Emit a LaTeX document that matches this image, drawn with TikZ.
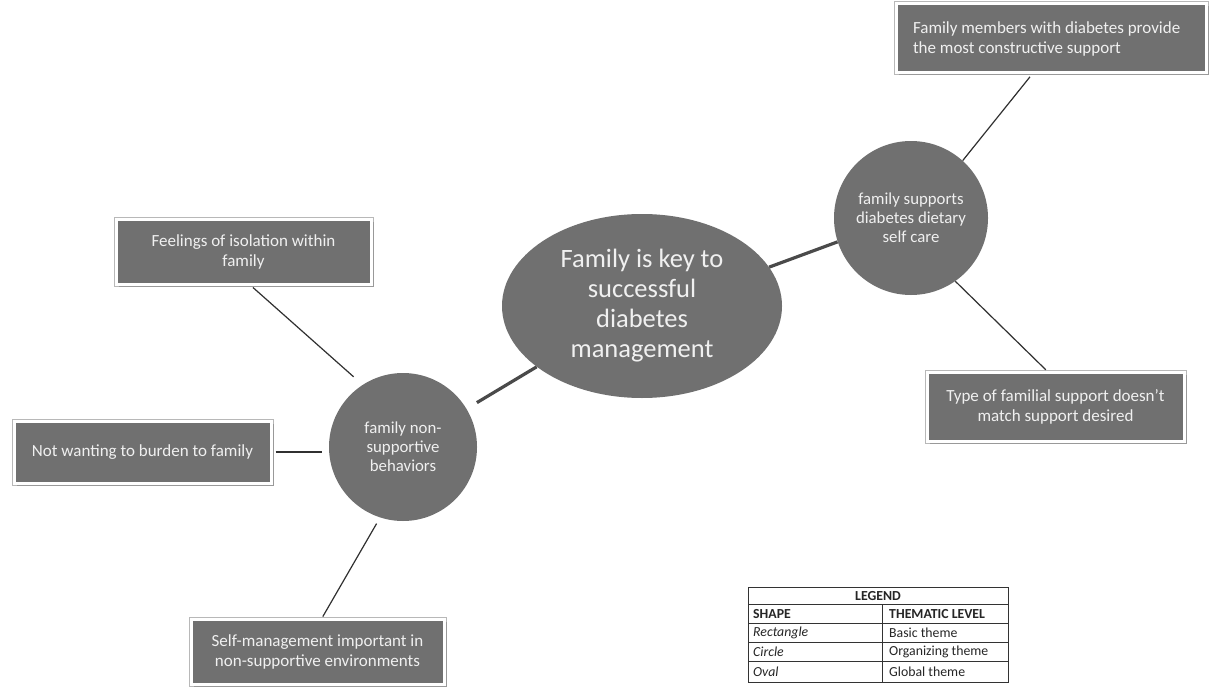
\documentclass[tikz,border=0pt]{standalone}
\usepackage{fontspec}
\setmainfont{Carlito}
\usetikzlibrary{shapes.geometric,shadows}
\definecolor{shapegray}{HTML}{707070}
\definecolor{labelwhite}{HTML}{F0F0F0}
\definecolor{linkdark}{HTML}{303030}
\definecolor{linkmid}{HTML}{4A4A4A}
\begin{document}
\begin{tikzpicture}[x=1pt,y=-1pt,
  basictheme/.style={rectangle, fill=shapegray, draw=white, line width=3pt,
    text=labelwhite, inner sep=0pt, align=center,
    preaction={draw=black!28, line width=5pt},
    general shadow={fill=black!40, shadow xshift=2.5pt, shadow yshift=-2.5pt},
    font=\fontsize{17}{20}\selectfont},
  orgtheme/.style={circle, fill=shapegray, text=labelwhite, inner sep=0pt,
    align=center, font=\fontsize{16.8}{19}\selectfont},
  globaltheme/.style={ellipse, fill=shapegray, text=labelwhite, inner sep=0pt,
    align=center, minimum width=280pt, minimum height=184pt,
    font=\fontsize{26.5}{30}\selectfont},
  thinlink/.style={draw=linkdark, line width=1.2pt},
  thicklink/.style={draw=linkmid, line width=3.2pt},
  legendgrid/.style={draw=black!80, line width=0.9pt},
  legendtext/.style={font=\fontsize{13.8}{15}\selectfont, inner sep=0pt, anchor=west, text=black!85}
]
\useasboundingbox[fill=white] (0,0) rectangle (1212,690);

% global theme
\node[globaltheme] (global) at (642,306)
  {Family is key to\\successful\\diabetes\\management};

% organizing themes
\node[orgtheme, minimum size=154pt] (support) at (911,218)
  {family supports\\diabetes dietary\\self care};
\node[orgtheme, minimum size=148pt] (nonsupport) at (403,447)
  {family non-\\supportive\\behaviors};

% basic themes
\node[basictheme, text width=276pt, align=flush left, minimum width=310pt, minimum height=69pt] (members) at (1051,38.5)
  {Family members with diabetes provide\\the most constructive support};
\node[basictheme, minimum width=257pt, minimum height=69pt] (mismatch) at (1055.5,406.5)
  {Type of familial support doesn't\\match support desired};
\node[basictheme, minimum width=255pt, minimum height=65pt] (isolation) at (243.5,251.5)
  {Feelings of isolation within\\family};
\node[basictheme, minimum width=257pt, minimum height=62pt] (burden) at (142.5,452)
  {Not wanting to burden to family};
\node[basictheme, minimum width=253pt, minimum height=65pt] (selfmgmt) at (317.5,651.5)
  {Self-management important in\\non-supportive environments};

% connectors
\draw[thicklink] (global.17) -- (support.198);
\draw[thicklink, shorten >=12pt] (global.210) -- (nonsupport.31);
\draw[thinlink, shorten >=3pt] (support.48) -- (members.-118);
\draw[thinlink, shorten >=1pt] (support.-55) -- (mismatch.104);
\draw[thinlink, shorten <=12pt, shorten >=3pt] (nonsupport.123) -- (isolation.-78);
\draw[thinlink, shorten <=3pt, shorten >=7pt] (burden.east) -- (burden.east -| nonsupport.west);
\draw[thinlink, shorten <=7pt, shorten >=1pt] (nonsupport.-108) -- (selfmgmt.82);

% legend table
\draw[legendgrid] (748,587) rectangle (1008,682);
\foreach \ry in {604,623,642,661}
  \draw[legendgrid] (748,\ry) -- (1008,\ry);
\draw[legendgrid] (882,604) -- (882,682);
\node[legendtext, anchor=center, font=\fontsize{13.8}{15}\bfseries] (lgtitle) at (878,596) {LEGEND};
\node[legendtext, font=\fontsize{13.8}{15}\bfseries] (lgshape) at (753,614) {SHAPE};
\node[legendtext, font=\fontsize{13.8}{15}\bfseries] (lglevel) at (889,614) {THEMATIC LEVEL};
\node[legendtext, font=\fontsize{13.8}{15}\itshape] (lgrect) at (753,633) {Rectangle};
\node[legendtext] (lgbasic) at (889,633) {Basic theme};
\node[legendtext, font=\fontsize{13.8}{15}\itshape] (lgcirc) at (753,652) {Circle};
\node[legendtext] (lgorg) at (889,652) {Organizing theme};
\node[legendtext, font=\fontsize{13.8}{15}\itshape] (lgoval) at (753,672) {Oval};
\node[legendtext] (lgglobal) at (889,672) {Global theme};
\end{tikzpicture}
\end{document}
